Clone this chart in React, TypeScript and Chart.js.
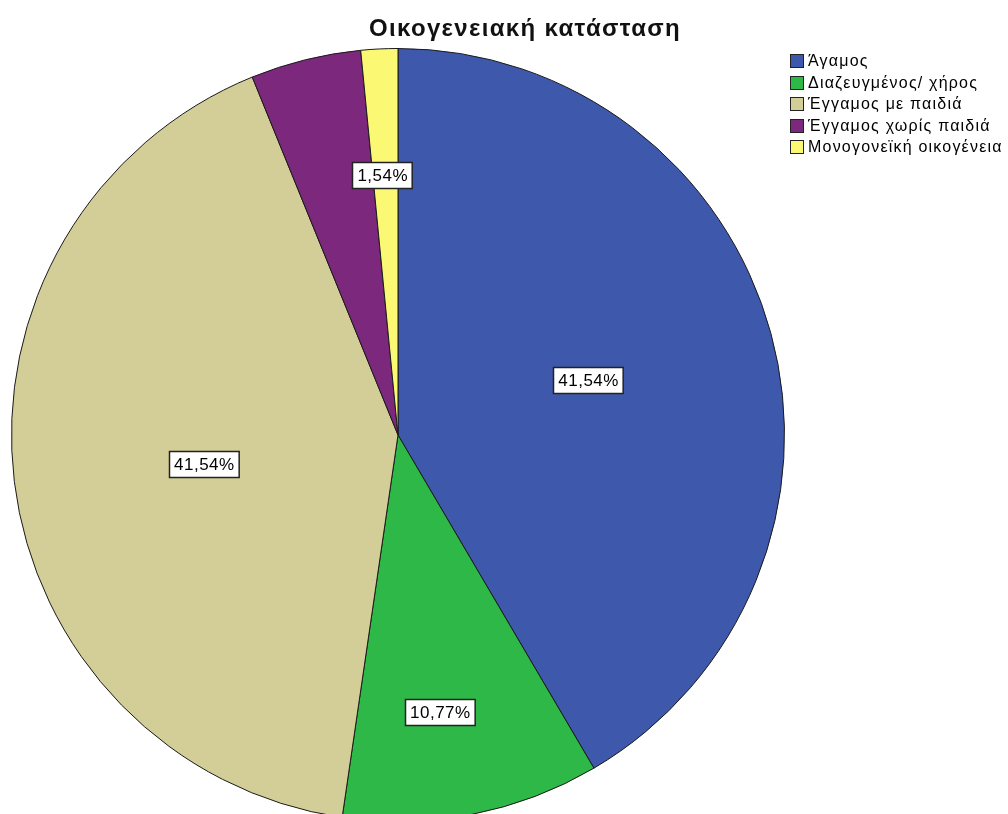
import React, { useEffect, useRef } from "react";
import { Chart, registerables } from "chart.js";

Chart.register(...registerables);

const chartTitle = "Οικογενειακή κατάσταση";
const categories = [
  "Άγαμος",
  "Διαζευγμένος/ χήρος",
  "Έγγαμος με παιδιά",
  "Έγγαμος χωρίς παιδιά",
  "Μονογονεϊκή οικογένεια",
];
const counts = [27, 7, 27, 3, 1];
const sliceColors = ["#3E58AC", "#2EB848", "#D3CE97", "#7C287D", "#FBF873"];
// which slices carry a percentage label, how far out (fraction of radius), small angular nudge (deg)
const labelShown = [true, true, true, false, true];
const labelRadius = [0.512, 0.726, 0.508, 0.6, 0.673];
const labelAngleShift = [-0.9, 2.5, -1.6, 0, -0.7];

const FONT = "'Liberation Sans', Arial, sans-serif";

const formatPct = (v: number, total: number) =>
  ((v / total) * 100).toFixed(2).replace(".", ",") + "%";

const overlayPlugin = {
  id: "spssOverlay",
  afterDatasetsDraw(chart: any) {
    const ctx = chart.ctx as any;
    const meta = chart.getDatasetMeta(0);
    const total = counts.reduce((a, b) => a + b, 0);
    ctx.save();
    // slice labels
    ctx.font = `17px ${FONT}`;
    ctx.letterSpacing = "0.5px";
    ctx.textAlign = "center";
    ctx.textBaseline = "middle";
    meta.data.forEach((arc: any, i: number) => {
      if (!labelShown[i]) return;
      const { x, y, startAngle, endAngle, outerRadius } = arc.getProps(
        ["x", "y", "startAngle", "endAngle", "outerRadius"],
        true
      );
      const mid = (startAngle + endAngle) / 2 + (labelAngleShift[i] * Math.PI) / 180;
      const r = outerRadius * labelRadius[i];
      const cx = x + Math.cos(mid) * r;
      const cy = y + Math.sin(mid) * r;
      const text = formatPct(counts[i], total);
      const w = ctx.measureText(text).width + 9;
      const h = 26;
      const bx = Math.round(cx - w / 2) + 0.5;
      const by = Math.round(cy - h / 2) + 0.5;
      ctx.fillStyle = "#ffffff";
      ctx.fillRect(bx, by, w, h);
      ctx.strokeStyle = "#222222";
      ctx.lineWidth = 1.5;
      ctx.strokeRect(bx, by, w, h);
      ctx.fillStyle = "#000000";
      ctx.fillText(text, cx + 0.5, cy + 1);
    });

    // title
    ctx.font = `bold 24px ${FONT}`;
    ctx.letterSpacing = "0px";
    const natural = ctx.measureText(chartTitle).width;
    const spacing = Math.max(0, (312 - natural) / chartTitle.length);
    ctx.letterSpacing = `${spacing}px`;
    ctx.textAlign = "center";
    ctx.textBaseline = "alphabetic";
    ctx.fillStyle = "#111111";
    ctx.fillText(chartTitle, 525, 36);

    // legend
    ctx.font = `16px ${FONT}`;
    ctx.letterSpacing = "1.2px";
    ctx.textAlign = "left";
    ctx.textBaseline = "middle";
    categories.forEach((c, i) => {
      const yc = 61 + i * 21.5;
      const top = Math.round(yc - 7) + 0.5;
      ctx.fillStyle = sliceColors[i];
      ctx.fillRect(790.5, top, 13, 13);
      ctx.strokeStyle = "#222222";
      ctx.lineWidth = 1;
      ctx.strokeRect(790.5, top, 13, 13);
      ctx.fillStyle = "#000000";
      ctx.fillText(c, 808, yc + 1);
    });
    ctx.restore();
  },
};

export default function App() {
  const ref = useRef<HTMLCanvasElement | null>(null);
  useEffect(() => {
    if (!ref.current) return;
    const chart = new Chart(ref.current, {
      type: "pie",
      data: {
        labels: categories,
        datasets: [
          {
            data: counts,
            backgroundColor: sliceColors,
            borderColor: "#1a1a1a",
            borderWidth: 1,
            hoverOffset: 0,
            offset: 0,
          },
        ],
      },
      options: {
        animation: false,
        responsive: false,
        devicePixelRatio: 1,
        events: [],
        layout: { padding: { left: 11, top: 48, right: 223, bottom: 18 } },
        plugins: {
          legend: { display: false },
          title: { display: false },
          tooltip: { enabled: false },
        },
      },
      plugins: [overlayPlugin],
    });
    return () => chart.destroy();
  }, []);
  return (
    <div
      style={{
        position: "absolute",
        left: 0,
        top: 0,
        width: 1008,
        height: 814,
        overflow: "hidden",
        background: "#ffffff",
      }}
    >
      <canvas ref={ref} width={1008} height={840} style={{ display: "block" }} />
    </div>
  );
}
